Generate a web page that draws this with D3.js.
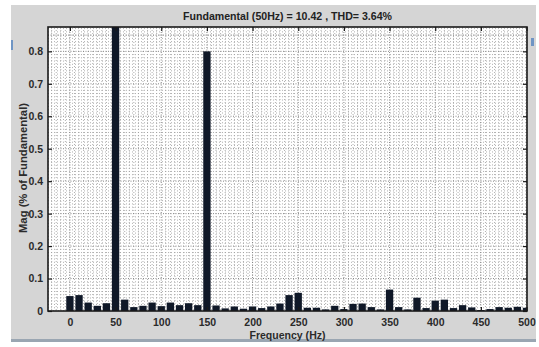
<!DOCTYPE html>
<html>
<head>
<meta charset="utf-8">
<script src="https://cdn.jsdelivr.net/npm/d3@7"></script>
<style>
  html, body { margin: 0; padding: 0; background: #ffffff; }
  svg { display: block; }
  text { font-family: "Liberation Sans", Arial, sans-serif; }
</style>
</head>
<body>
<svg id="chart" width="539" height="347"></svg>
<script>
// ---- data ----
const frequencies = [0,10,20,30,40,50,60,70,80,90,100,110,120,130,140,150,160,170,180,190,200,
  210,220,230,240,250,260,270,280,290,300,310,320,330,340,350,360,370,380,390,400,
  410,420,430,440,450,460,470,480,490,500];
const magnitudes = [0.046,0.049,0.026,0.016,0.024,100,0.035,0.012,0.016,0.026,0.015,0.026,0.018,0.024,0.018,0.80,0.017,0.008,0.014,0.007,0.014,
  0.009,0.014,0.023,0.049,0.056,0.010,0.010,0.005,0.016,0.006,0.022,0.023,0.012,0.005,0.066,0.012,0.005,0.041,0.009,0.032,
  0.035,0.009,0.018,0.011,0.003,0.006,0.012,0.010,0.013,0.010];
const xTicks = [0,50,100,150,200,250,300,350,400,450,500];
const yTicks = [0,0.1,0.2,0.3,0.4,0.5,0.6,0.7,0.8];
const titleText = "Fundamental (50Hz) = 10.42 , THD= 3.64%";
const xLabel = "Frequency (Hz)";
const yLabel = "Mag (% of Fundamental)";

// ---- layout ----
const svg = d3.select("#chart");
const L = 48, R = 527, T = 27, B = 311;
const x = d3.scaleLinear().domain([-24, 500.5]).range([L, R]);
const y = d3.scaleLinear().domain([0, 0.875]).range([B, T]);

// window background
svg.append("rect").attr("x", 11).attr("y", 5).attr("width", 525).attr("height", 336).attr("fill", "#d5d5d5");
svg.append("rect").attr("x", 11).attr("y", 339).attr("width", 525).attr("height", 3).attr("fill", "#9aa6b2");
svg.append("rect").attr("x", 11).attr("y", 40).attr("width", 2).attr("height", 10).attr("fill", "#6f95c4");
svg.append("rect").attr("x", 531).attr("y", 38).attr("width", 3).attr("height", 8).attr("fill", "#6f95c4");

// plot area
svg.append("rect").attr("x", L).attr("y", T).attr("width", R - L).attr("height", B - T).attr("fill", "#ffffff");

svg.append("defs").append("clipPath").attr("id", "clip")
  .append("rect").attr("x", L).attr("y", T).attr("width", R - L).attr("height", B - T);

const grid = svg.append("g").attr("clip-path", "url(#clip)");
// minor grid
const xMinor = d3.range(-20, 501, 5).filter(v => v % 50 !== 0);
const yMinor = d3.range(1, 88).map(v => v / 100).filter(v => Math.round(v * 100) % 10 !== 0);
grid.selectAll(".xm").data(xMinor).join("line")
  .attr("x1", d => x(d)).attr("x2", d => x(d)).attr("y1", T).attr("y2", B)
  .attr("stroke", "#9c9c9c").attr("stroke-width", 0.8).attr("stroke-dasharray", "1,2");
grid.selectAll(".ym").data(yMinor).join("line")
  .attr("x1", L).attr("x2", R).attr("y1", d => y(d)).attr("y2", d => y(d))
  .attr("stroke", "#9c9c9c").attr("stroke-width", 0.8).attr("stroke-dasharray", "1,2");
// major grid
grid.selectAll(".xM").data(xTicks).join("line")
  .attr("x1", d => x(d)).attr("x2", d => x(d)).attr("y1", T).attr("y2", B)
  .attr("stroke", "#7a7a7a").attr("stroke-width", 0.9).attr("stroke-dasharray", "1,1.5");
grid.selectAll(".yM").data(yTicks.concat([0.85])).join("line")
  .attr("x1", L).attr("x2", R).attr("y1", d => y(d)).attr("y2", d => y(d))
  .attr("stroke", "#7a7a7a").attr("stroke-width", 0.9).attr("stroke-dasharray", "1,1.5");

// bars
const bw = x(8) - x(0);
svg.append("g").attr("clip-path", "url(#clip)")
  .selectAll("rect").data(frequencies).join("rect")
  .attr("x", (d) => x(d) - bw / 2)
  .attr("width", bw)
  .attr("y", (d, i) => y(magnitudes[i]))
  .attr("height", (d, i) => y(0) - y(magnitudes[i]))
  .attr("fill", "#0f1828");

// axes
const axisColor = "#1a1a1a";
const fontSize = "10.5px";
const gx = svg.append("g").attr("transform", `translate(0,${B})`)
  .call(d3.axisBottom(x).tickValues(xTicks).tickSizeInner(-4).tickSizeOuter(0).tickPadding(8).tickFormat(d3.format("d")));
const gx2 = svg.append("g").attr("transform", `translate(0,${T})`)
  .call(d3.axisTop(x).tickValues(xTicks).tickSizeInner(-4).tickSizeOuter(0).tickFormat(""));
const gy = svg.append("g").attr("transform", `translate(${L},0)`)
  .call(d3.axisLeft(y).tickValues(yTicks).tickSizeInner(-4).tickSizeOuter(0).tickPadding(5).tickFormat(d => d === 0 ? "0" : d3.format(".1f")(d)));
const gy2 = svg.append("g").attr("transform", `translate(${R},0)`)
  .call(d3.axisRight(y).tickValues(yTicks).tickSizeInner(-4).tickSizeOuter(0).tickFormat(""));
[gx, gx2, gy, gy2].forEach(g => {
  g.select(".domain").remove();
  g.selectAll(".tick line").attr("stroke", axisColor).attr("stroke-width", 1.2);
  g.selectAll("text").attr("fill", "#2b2b2b").attr("font-weight", "bold").attr("font-size", fontSize)
    .attr("font-family", "'Liberation Sans', Arial, sans-serif");
});
// box
svg.append("rect").attr("x", L).attr("y", T).attr("width", R - L).attr("height", B - T)
  .attr("fill", "none").attr("stroke", axisColor).attr("stroke-width", 1.6);

// title and labels
svg.append("text").attr("x", (L + R) / 2).attr("y", 20).attr("text-anchor", "middle")
  .attr("font-weight", "bold").attr("font-size", "11.5px").attr("fill", "#222")
  .attr("textLength", 209).attr("lengthAdjust", "spacingAndGlyphs").text(titleText);
svg.append("text").attr("x", (L + R) / 2).attr("y", 339).attr("text-anchor", "middle")
  .attr("font-weight", "bold").attr("font-size", "11px").attr("fill", "#2b2b2b")
  .attr("textLength", 76).attr("lengthAdjust", "spacingAndGlyphs").text(xLabel);
svg.append("text").attr("transform", `translate(27,168) rotate(-90)`).attr("text-anchor", "middle")
  .attr("font-weight", "bold").attr("font-size", "11px").attr("fill", "#2b2b2b")
  .attr("textLength", 130).attr("lengthAdjust", "spacingAndGlyphs").text(yLabel);
</script>
</body>
</html>
